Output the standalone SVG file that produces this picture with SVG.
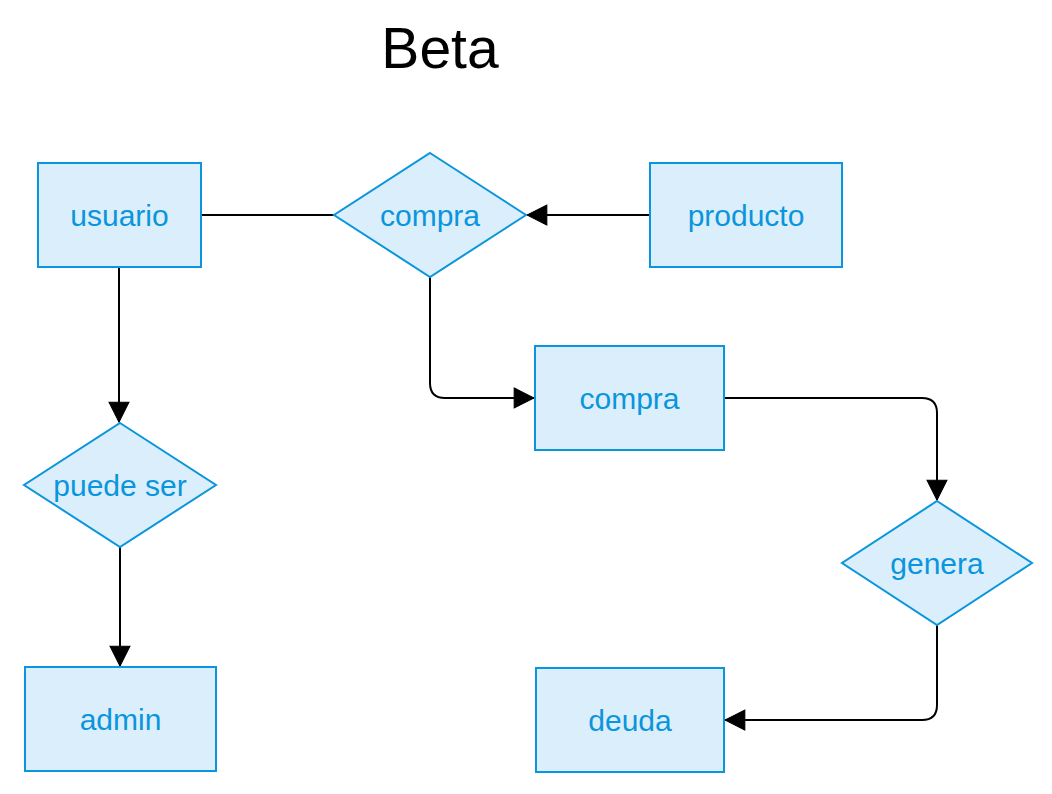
<svg xmlns="http://www.w3.org/2000/svg" width="1052" height="794" viewBox="0 0 1052 794">
<style>
.n{fill:#daeffb;stroke:#0a95dc;stroke-width:2}
.t{font-family:"Liberation Sans",Arial,sans-serif;font-size:30px;fill:#0a95dc;text-anchor:middle;dominant-baseline:central}
.e{fill:none;stroke:#000;stroke-width:2}
</style>
<defs>
<marker id="a" markerUnits="userSpaceOnUse" markerWidth="22" markerHeight="22" viewBox="0 0 20 20" refX="19" refY="10" orient="auto">
<path d="M1,1 L19,10 L1,19 Z" fill="#000" stroke="#000" stroke-width="1"/>
</marker>
</defs>
<rect width="1052" height="794" fill="#fff"/>
<text x="440" y="48" font-family="'Liberation Sans',Arial,sans-serif" font-size="57" text-anchor="middle" dominant-baseline="central" fill="#000">Beta</text>
<g id="edges">
<path class="e" d="M201,215 H334"/>
<path class="e" d="M650,215 H527" marker-end="url(#a)"/>
<path class="e" d="M119,267 V422" marker-end="url(#a)"/>
<path class="e" d="M120,547 V666" marker-end="url(#a)"/>
<path class="e" d="M430,277 V383 Q430,398 445,398 H534" marker-end="url(#a)"/>
<path class="e" d="M724,398 H922 Q937,398 937,413 V500" marker-end="url(#a)"/>
<path class="e" d="M937,625 V705 Q937,720 922,720 H725" marker-end="url(#a)"/>
</g>
<g id="usuario"><rect class="n" x="38" y="163" width="163" height="104"/><text class="t" x="119.5" y="215">usuario</text></g>
<g id="compra-rel"><polygon class="n" points="430,153 526,215 430,277 334,215"/><text class="t" x="430" y="215">compra</text></g>
<g id="producto"><rect class="n" x="650" y="163" width="192" height="104"/><text class="t" x="746" y="215">producto</text></g>
<g id="puede-ser"><polygon class="n" points="120,423 216,485 120,547 24,485"/><text class="t" x="120" y="485">puede ser</text></g>
<g id="admin"><rect class="n" x="25" y="667" width="191" height="104"/><text class="t" x="120.5" y="719">admin</text></g>
<g id="compra"><rect class="n" x="535" y="346" width="189" height="104"/><text class="t" x="629.5" y="398">compra</text></g>
<g id="genera"><polygon class="n" points="937,501 1032,563 937,625 842,563"/><text class="t" x="937" y="563">genera</text></g>
<g id="deuda"><rect class="n" x="536" y="668" width="188" height="104"/><text class="t" x="630" y="720">deuda</text></g>
</svg>
